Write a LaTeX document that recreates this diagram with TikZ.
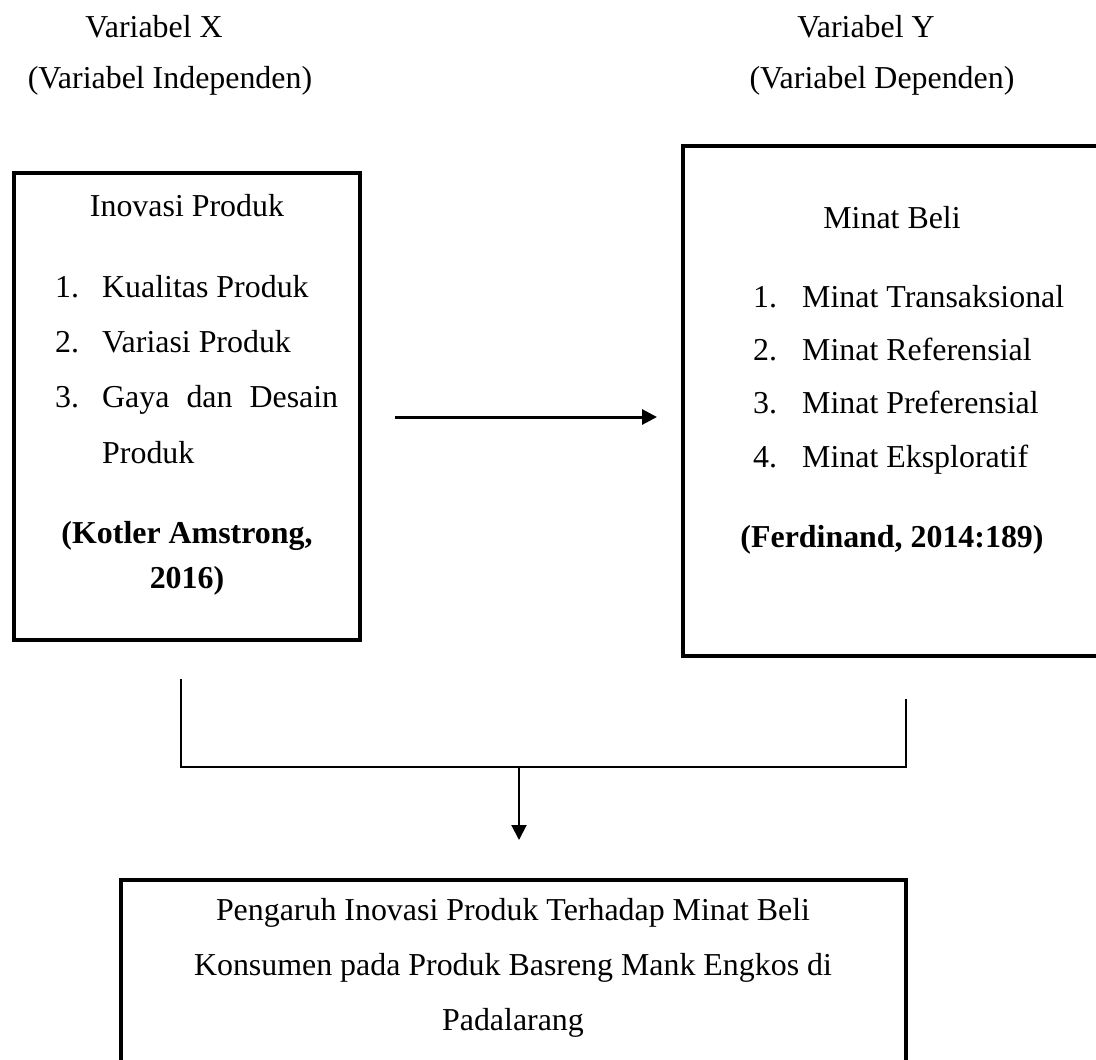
\documentclass[tikz,border=0pt]{standalone}
\usepackage{fontspec}
\setmainfont{Liberation Serif}
\usetikzlibrary{arrows.meta}
\begin{document}
\begin{tikzpicture}[x=1pt,y=-1pt,
  txt/.style={inner sep=0pt, font=\fontsize{31.9}{38}\selectfont},
  btxt/.style={inner sep=0pt, font=\fontsize{31.9}{38}\selectfont\bfseries},
  boxline/.style={draw, line width=4pt, inner sep=0pt},
  conn/.style={line width=2pt},
  harrow/.style={line width=3pt, -{Triangle[length=15pt,width=15pt]}},
  varrow/.style={line width=2pt, -{Triangle[length=15pt,width=15pt]}}]
\useasboundingbox (0,0) rectangle (1096,1060);
\clip (0,0) rectangle (1096,1060);

% header texts
\node[txt, anchor=base] (vx) at (154,37) {Variabel X};
\node[txt, anchor=base] (vxi) at (170,88) {(Variabel Independen)};
\node[txt, anchor=base] (vy) at (866,37) {Variabel Y};
\node[txt, anchor=base] (vyd) at (882,88) {(Variabel Dependen)};

% boxes
\node[boxline, minimum width=346pt, minimum height=467pt] (boxX) at (187,406.5) {};
\node[boxline, minimum width=427pt, minimum height=510pt] (boxY) at (896.5,401) {};
\node[boxline, minimum width=785pt, minimum height=195pt] (boxR) at (513.5,977.5) {};

% left box text
\node[txt, anchor=base] (ip) at (187,216) {Inovasi Produk};
\node[txt, anchor=base west] (n1) at (55,297) {1.};
\node[txt, anchor=base west] (i1) at (102,297) {Kualitas Produk};
\node[txt, anchor=base west] (n2) at (55,352) {2.};
\node[txt, anchor=base west] (i2) at (102,352) {Variasi Produk};
\node[txt, anchor=base west] (n3) at (55,407) {3.};
\node[txt, anchor=base west] (i3) at (102,407) {\hbox to 236pt{Gaya\hfil dan\hfil Desain}};
\node[txt, anchor=base west] (i3b) at (102,463) {Produk};
\node[btxt, anchor=base] (ka) at (187,543) {(Kotler Amstrong,};
\node[btxt, anchor=base] (kb) at (187,588) {2016)};

% right box text
\node[txt, anchor=base] (mb) at (892,228) {Minat Beli};
\node[txt, anchor=base west] (m1n) at (753,307) {1.};
\node[txt, anchor=base west] (m1) at (802,307) {Minat Transaksional};
\node[txt, anchor=base west] (m2n) at (753,360) {2.};
\node[txt, anchor=base west] (m2) at (802,360) {Minat Referensial};
\node[txt, anchor=base west] (m3n) at (753,413) {3.};
\node[txt, anchor=base west] (m3) at (802,413) {Minat Preferensial};
\node[txt, anchor=base west] (m4n) at (753,467) {4.};
\node[txt, anchor=base west] (m4) at (802,467) {Minat Eksploratif};
\node[btxt, anchor=base] (fd) at (892,547) {(Ferdinand, 2014:189)};

% result box text
\node[txt, anchor=base] (r1) at (513,920) {Pengaruh Inovasi Produk Terhadap Minat Beli};
\node[txt, anchor=base] (r2) at (513,975) {Konsumen pada Produk Basreng Mank Engkos di};
\node[txt, anchor=base] (r3) at (513,1030) {Padalarang};

% connectors
\coordinate (a1) at (395,417);
\coordinate (a2) at (657,417);
\draw[harrow] (a1) -- (a2);

\coordinate (bl) at (181,679);
\coordinate (blc) at (181,767);
\coordinate (br) at (906,699);
\coordinate (brc) at (906,767);
\coordinate (bm) at (519,767);
\coordinate (bt) at (519,840);
\draw[conn] (bl) -- (blc) -- (brc) -- (br);
\draw[varrow] (bm) -- (bt);
\end{tikzpicture}
\end{document}
